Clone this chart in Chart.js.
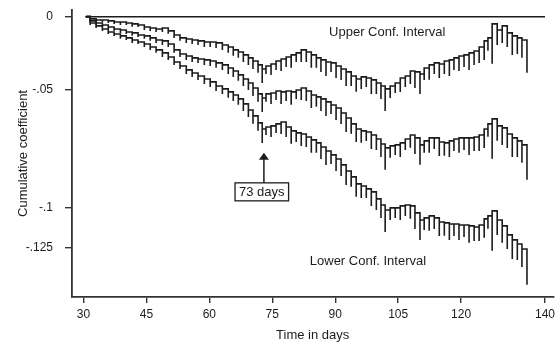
<!DOCTYPE html>
<html>
<head>
<meta charset="utf-8">
<script src="https://cdn.jsdelivr.net/npm/chart.js@4.4.1/dist/chart.umd.min.js"></script>
<style>
  html, body { margin: 0; padding: 0; background: #fff; }
  #chart { display: block; }
</style>
</head>
<body>
<canvas id="chart" width="555" height="343"></canvas>
<script>
// event times (days) where the cumulative coefficient steps
const stepDays = [
  31.6, 33.0, 34.5, 35.9, 37.3, 38.8, 40.2, 41.6, 43.0, 44.5,
  45.9, 47.3, 48.8, 50.2, 51.6, 53.0, 54.5, 55.9, 57.3, 58.8,
  60.2, 61.6, 63.1, 64.5, 65.7, 66.9, 68.1, 69.3, 70.4, 71.6,
  72.6, 73.5, 74.7, 75.9, 77.1, 78.3, 79.5, 80.7, 81.9, 83.1,
  84.3, 85.5, 86.6, 87.8, 89.0, 90.2, 91.4, 92.6, 93.8, 95.0,
  96.2, 97.4, 98.6, 99.8, 100.9, 101.9, 103.1, 104.3, 105.5, 106.7,
  107.9, 109.0, 110.2, 111.2, 112.4, 113.6, 114.8, 116.0, 117.2, 118.3,
  119.5, 120.7, 121.9, 123.1, 124.3, 125.5, 126.4, 127.4, 128.6, 129.8,
  131.0, 132.2, 133.4, 134.5, 135.7
];

// level after each step
const upperCI = [
  -0.0012, -0.0018, -0.0018, -0.0023, -0.0029, -0.0029, -0.0034, -0.0039, -0.0045, -0.0056,
  -0.0061, -0.0067, -0.0061, -0.0077, -0.0099, -0.0115, -0.0121, -0.0126, -0.0131, -0.0137,
  -0.0137, -0.0142, -0.0153, -0.0164, -0.0180, -0.0191, -0.0207, -0.0223, -0.0240, -0.0261,
  -0.0283, -0.0267, -0.0256, -0.0240, -0.0229, -0.0218, -0.0207, -0.0196, -0.0180, -0.0191,
  -0.0207, -0.0223, -0.0234, -0.0245, -0.0250, -0.0267, -0.0283, -0.0299, -0.0321, -0.0337,
  -0.0326, -0.0332, -0.0342, -0.0359, -0.0375, -0.0391, -0.0375, -0.0359, -0.0332, -0.0321,
  -0.0294, -0.0299, -0.0310, -0.0278, -0.0261, -0.0250, -0.0256, -0.0240, -0.0234, -0.0223,
  -0.0213, -0.0207, -0.0196, -0.0186, -0.0164, -0.0131, -0.0115, -0.0039, -0.0072, -0.0050,
  -0.0088, -0.0104, -0.0115, -0.0126, -0.0142
];
const estimate = [
  -0.0023, -0.0034, -0.0045, -0.0056, -0.0067, -0.0072, -0.0083, -0.0088, -0.0099, -0.0104,
  -0.0115, -0.0126, -0.0131, -0.0148, -0.0180, -0.0202, -0.0213, -0.0223, -0.0229, -0.0234,
  -0.0240, -0.0250, -0.0261, -0.0278, -0.0294, -0.0315, -0.0337, -0.0359, -0.0386, -0.0418,
  -0.0440, -0.0418, -0.0413, -0.0402, -0.0407, -0.0402, -0.0407, -0.0397, -0.0386, -0.0402,
  -0.0424, -0.0434, -0.0445, -0.0461, -0.0478, -0.0494, -0.0521, -0.0548, -0.0580, -0.0608,
  -0.0618, -0.0624, -0.0640, -0.0662, -0.0689, -0.0710, -0.0699, -0.0694, -0.0683, -0.0662,
  -0.0640, -0.0656, -0.0694, -0.0672, -0.0656, -0.0656, -0.0678, -0.0683, -0.0672, -0.0662,
  -0.0656, -0.0656, -0.0656, -0.0651, -0.0640, -0.0608, -0.0580, -0.0553, -0.0591, -0.0602,
  -0.0635, -0.0656, -0.0672, -0.0694, -0.0721
];
const lowerCI = [
  -0.0034, -0.0050, -0.0067, -0.0083, -0.0094, -0.0104, -0.0115, -0.0126, -0.0137, -0.0148,
  -0.0164, -0.0180, -0.0196, -0.0218, -0.0245, -0.0267, -0.0288, -0.0305, -0.0321, -0.0337,
  -0.0353, -0.0375, -0.0391, -0.0407, -0.0424, -0.0445, -0.0472, -0.0505, -0.0537, -0.0575,
  -0.0608, -0.0597, -0.0591, -0.0580, -0.0570, -0.0597, -0.0618, -0.0629, -0.0635, -0.0651,
  -0.0667, -0.0683, -0.0705, -0.0727, -0.0748, -0.0770, -0.0802, -0.0835, -0.0867, -0.0905,
  -0.0916, -0.0932, -0.0948, -0.0986, -0.1019, -0.1046, -0.1035, -0.1035, -0.1024, -0.1019,
  -0.1024, -0.1062, -0.1100, -0.1089, -0.1078, -0.1089, -0.1111, -0.1116, -0.1122, -0.1122,
  -0.1127, -0.1127, -0.1132, -0.1138, -0.1127, -0.1094, -0.1078, -0.1051, -0.1100, -0.1132,
  -0.1181, -0.1208, -0.1230, -0.1257, -0.1289
];
// size of the downward spike drawn at each step
const jumpSize = [
  0.0011, 0.0011, 0.0011, 0.0011, 0.0011, 0.0016, 0.0011, 0.0016, 0.0011, 0.0016,
  0.0016, 0.0016, 0.0022, 0.0016, 0.0016, 0.0016, 0.0022, 0.0022, 0.0022, 0.0027,
  0.0027, 0.0027, 0.0027, 0.0032, 0.0032, 0.0032, 0.0038, 0.0038, 0.0043, 0.0043,
  0.0076, 0.0043, 0.0060, 0.0049, 0.0065, 0.0054, 0.0070, 0.0049, 0.0065, 0.0054,
  0.0070, 0.0054, 0.0065, 0.0076, 0.0049, 0.0065, 0.0060, 0.0076, 0.0054, 0.0070,
  0.0065, 0.0049, 0.0076, 0.0060, 0.0070, 0.0119, 0.0065, 0.0054, 0.0076, 0.0060,
  0.0070, 0.0087, 0.0108, 0.0065, 0.0081, 0.0060, 0.0076, 0.0070, 0.0087, 0.0065,
  0.0081, 0.0065, 0.0092, 0.0076, 0.0087, 0.0103, 0.0070, 0.0216, 0.0081, 0.0092,
  0.0076, 0.0103, 0.0087, 0.0097, 0.0162
];
const startDay = 30.6;
const zeroLineDays = [30.4, 140];

// axes
const xTicks = [30, 45, 60, 75, 90, 105, 120, 140];
const yTickValues = [0, -0.0397, -0.1035, -0.125];
const yTickLabels = ["0", "-.05", "-.1", "-.125"];

// annotations
const bandLabels = ["Upper Conf. Interval", "Lower Conf. Interval"];
const bandLabelDays = [102.4, 97.8];
const bandLabelValues = [-0.0088, -0.1327];
const markDay = 73;
const markLabel = "73 days";
const markTipValue = -0.0737;
const markBoxDay = 72.5;
const markBoxValue = -0.0948;

const FONT = "'Liberation Sans', Arial, sans-serif";
const INK = "#1c1c1c";

// turn levels into a stairstep path with a spike at each step
function stepPoints(levels) {
  const pts = [{ x: startDay, y: 0 }];
  let prev = 0;
  for (let i = 0; i < stepDays.length; i++) {
    pts.push({ x: stepDays[i], y: prev });
    pts.push({ x: stepDays[i], y: levels[i] - jumpSize[i] });
    pts.push({ x: stepDays[i], y: levels[i] });
    prev = levels[i];
  }
  return pts;
}

function lineSet(data, width) {
  return {
    data: data,
    showLine: true,
    borderColor: INK,
    borderWidth: width,
    pointRadius: 0,
    tension: 0,
    fill: false,
    borderJoinStyle: "miter",
  };
}

// text, box and arrow drawn on top of the curves
const notes = {
  id: "notes",
  afterDatasetsDraw(chart) {
    const ctx = chart.ctx;
    const x = chart.scales.x;
    const y = chart.scales.y;
    ctx.save();
    ctx.font = "13px " + FONT;
    ctx.textAlign = "center";
    ctx.textBaseline = "middle";
    ctx.fillStyle = INK;
    bandLabels.forEach((t, i) => {
      ctx.fillText(t, x.getPixelForValue(bandLabelDays[i]), y.getPixelForValue(bandLabelValues[i]));
    });

    const bx = x.getPixelForValue(markBoxDay);
    const by = y.getPixelForValue(markBoxValue);
    const w = ctx.measureText(markLabel).width + 8;
    const h = 18;
    ctx.fillStyle = "#fff";
    ctx.fillRect(bx - w / 2, by - h / 2, w, h);
    ctx.strokeStyle = INK;
    ctx.lineWidth = 1.3;
    ctx.strokeRect(bx - w / 2, by - h / 2, w, h);
    ctx.fillStyle = INK;
    ctx.fillText(markLabel, bx, by + 1);

    const ax = x.getPixelForValue(markDay);
    const tip = y.getPixelForValue(markTipValue);
    ctx.lineWidth = 1.5;
    ctx.beginPath();
    ctx.moveTo(ax, by - h / 2);
    ctx.lineTo(ax, tip + 6);
    ctx.stroke();
    ctx.beginPath();
    ctx.moveTo(ax, tip);
    ctx.lineTo(ax - 5, tip + 7);
    ctx.lineTo(ax + 5, tip + 7);
    ctx.closePath();
    ctx.fill();
    ctx.restore();
  },
};

new Chart(document.getElementById("chart"), {
  type: "scatter",
  data: {
    datasets: [
      lineSet(zeroLineDays.map((d) => ({ x: d, y: 0 })), 1.5),
      lineSet(stepPoints(upperCI), 1.6),
      lineSet(stepPoints(estimate), 1.6),
      lineSet(stepPoints(lowerCI), 1.6),
    ],
  },
  options: {
    responsive: false,
    animation: false,
    devicePixelRatio: 1,
    layout: { padding: { top: 10, right: 1.6, bottom: 0, left: 0 } },
    plugins: {
      legend: { display: false },
      tooltip: { enabled: false },
    },
    scales: {
      x: {
        type: "linear",
        min: 27.26,
        max: 142,
        afterBuildTicks: (scale) => {
          scale.ticks = xTicks.map((v) => ({ value: v }));
        },
        afterFit: (scale) => {
          scale.height = 46;
          scale.paddingLeft = 0;
          scale.paddingRight = 0;
        },
        grid: {
          drawOnChartArea: false,
          drawTicks: true,
          tickLength: 6,
          color: "#333",
          lineWidth: 1.4,
        },
        border: { display: true, color: "#333", width: 1.8 },
        ticks: {
          color: INK,
          padding: 4,
          maxRotation: 0,
          autoSkip: false,
          font: { family: FONT, size: 12 },
          callback: (v) => String(v),
        },
        title: {
          display: true,
          text: "Time in days",
          color: INK,
          font: { family: FONT, size: 13 },
          padding: { top: 0, bottom: 0 },
        },
      },
      y: {
        type: "linear",
        min: -0.1517,
        max: 0.0036,
        afterBuildTicks: (scale) => {
          scale.ticks = yTickValues.map((v) => ({ value: v }));
        },
        afterFit: (scale) => {
          scale.width = 72;
          scale.paddingTop = 0;
          scale.paddingBottom = 0;
        },
        grid: {
          drawOnChartArea: false,
          drawTicks: true,
          tickLength: 7,
          color: "#333",
          lineWidth: 1.4,
        },
        border: { display: true, color: "#333", width: 1.8 },
        ticks: {
          color: INK,
          padding: 12,
          autoSkip: false,
          font: { family: FONT, size: 12 },
          callback: (v, i) => yTickLabels[i],
        },
        title: {
          display: true,
          text: "Cumulative coefficient",
          color: INK,
          font: { family: FONT, size: 13 },
          padding: { top: 16, bottom: 0 },
        },
      },
    },
  },
  plugins: [notes],
});
</script>
</body>
</html>
